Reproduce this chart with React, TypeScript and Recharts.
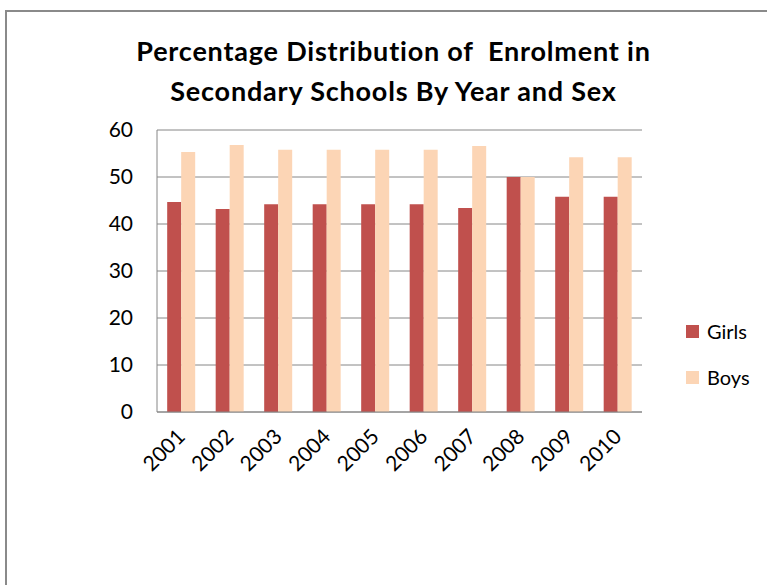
import React from 'react';
import { BarChart, Bar, XAxis, YAxis, CartesianGrid } from 'recharts';

const years = ['2001', '2002', '2003', '2004', '2005', '2006', '2007', '2008', '2009', '2010'];
const girls = [44.7, 43.2, 44.2, 44.2, 44.2, 44.2, 43.4, 50.0, 45.8, 45.8];
const boys = [55.3, 56.8, 55.8, 55.8, 55.8, 55.8, 56.6, 50.0, 54.2, 54.2];
const yTicks = [0, 10, 20, 30, 40, 50, 60];
const seriesNames = ['Girls', 'Boys'];

const GIRLS_COLOR = '#C0504D';
const BOYS_COLOR = '#FCD5B5';
const FONT = 'Lato, "Open Sans", sans-serif';

const data = years.map((year, i) => ({ year, Girls: girls[i], Boys: boys[i] }));

const YearTick = ({ x, y, payload }: any) => (
  <text
    x={x + 5}
    y={y + 18}
    transform={`rotate(-45, ${x + 5}, ${y + 18})`}
    textAnchor="end"
    fontSize={21}
    fontFamily={FONT}
    fill="#000"
  >
    {payload.value}
  </text>
);

export default function App() {
  const colors = [GIRLS_COLOR, BOYS_COLOR];
  return (
    <div style={{ position: 'absolute', left: 0, top: 0, width: 767, height: 585, background: '#fff', overflow: 'hidden' }}>
      {/* frame: only the top and left edges fall inside the page */}
      <div
        style={{
          position: 'absolute',
          left: 5,
          top: 10,
          width: 800,
          height: 600,
          borderLeft: '2px solid #8a8a8a',
          borderTop: '2px solid #8a8a8a',
        }}
      />
      <div
        style={{
          position: 'absolute',
          left: 0,
          top: 31,
          width: 787,
          textAlign: 'center',
          fontFamily: FONT,
          fontWeight: 'bold',
          fontSize: 27,
          letterSpacing: 0.8,
          lineHeight: '40px',
          color: '#000',
          whiteSpace: 'pre',
        }}
      >
        {'Percentage Distribution of  Enrolment in\nSecondary Schools By Year and Sex'}
      </div>
      <div style={{ position: 'absolute', left: 0, top: 0 }}>
        <BarChart
          width={767}
          height={585}
          data={data}
          margin={{ top: 130, right: 125, left: 107, bottom: 113 }}
          barCategoryGap="21%"
          barGap={0}
        >
          <CartesianGrid horizontal vertical={false} stroke="#868686" strokeWidth={1} />
          <XAxis
            dataKey="year"
            tick={<YearTick />}
            tickLine={false}
            axisLine={{ stroke: '#868686' }}
            height={60}
            interval={0}
          />
          <YAxis
            domain={[0, 60]}
            ticks={yTicks}
            width={50}
            tickLine={false}
            axisLine={{ stroke: '#868686' }}
            tickMargin={18}
            tick={{ fill: '#000', fontSize: 21, fontFamily: FONT }}
          />
          <Bar dataKey="Girls" fill={GIRLS_COLOR} isAnimationActive={false} />
          <Bar dataKey="Boys" fill={BOYS_COLOR} isAnimationActive={false} />
        </BarChart>
      </div>
      <div style={{ position: 'absolute', left: 686, top: 318, fontFamily: FONT, fontSize: 20, color: '#000' }}>
        {seriesNames.map((name, i) => (
          <div key={name} style={{ display: 'flex', alignItems: 'center', height: 26, marginTop: i ? 20 : 0 }}>
            <span style={{ display: 'inline-block', width: 13, height: 13, background: colors[i], marginRight: 8 }} />
            {name}
          </div>
        ))}
      </div>
    </div>
  );
}
